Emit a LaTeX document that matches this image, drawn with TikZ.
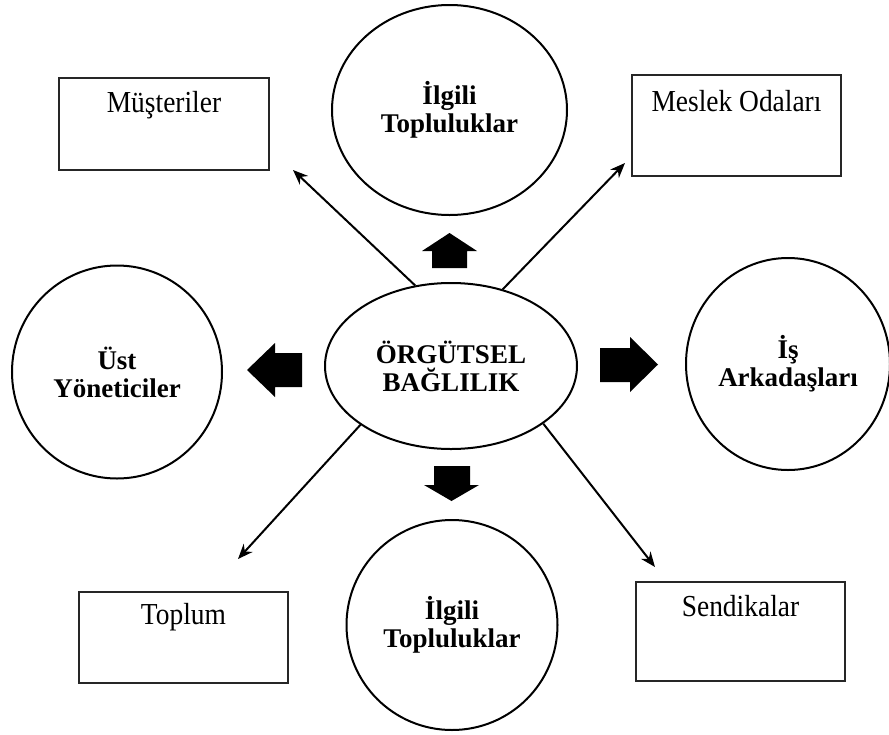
\documentclass[tikz,border=0pt]{standalone}
\usepackage{fontspec}
\setmainfont{Liberation Serif}
\newfontfamily\narrowserif[FakeStretch=0.9]{Liberation Serif}
\usetikzlibrary{shapes.geometric,arrows.meta}
\begin{document}
\begin{tikzpicture}[x=1pt,y=-1pt,
  oval/.style={draw, ellipse, line width=2pt, inner sep=0pt, align=center,
    font=\fontsize{27}{28}\selectfont\bfseries},
  boxst/.style={draw=black!85, rectangle, line width=1.8pt, inner sep=0pt},
  boxtext/.style={font=\narrowserif\fontsize{30.5}{32}\selectfont, anchor=base, inner sep=0pt},
  link/.style={line width=2pt, -{Stealth[length=15pt,width=12pt]}},
  blk/.style={fill=black}]
\fill[white] (0,0) rectangle (889,734);
\useasboundingbox (0,0) rectangle (889,734);

% ovals
\node[oval, minimum width=252pt, minimum height=166pt] (c) at (451,366) {ÖRGÜTSEL\\BAĞLILIK};
\node[oval, minimum width=235pt, minimum height=210pt] (t) at (449.5,110) {İlgili\\Topluluklar};
\node[oval, minimum width=210pt, minimum height=213pt] (l) at (117,372) {Üst\\Yöneticiler};
\node[oval, minimum width=204pt, minimum height=212pt] (r) at (788,364) {İş\\Arkadaşları};
\node[oval, minimum width=211pt, minimum height=210pt] (b) at (452,625) {İlgili\\Topluluklar};

% boxes
\node[boxst, minimum width=210pt, minimum height=92pt] (m) at (164,124) {};
\node[boxtext] (mt) at ([yshift=-35pt]m.north) {Müşteriler};
\node[boxst, minimum width=209pt, minimum height=101pt] (o) at (736.5,125.5) {};
\node[boxtext] (ot) at ([yshift=-37pt]o.north) {Meslek Odaları};
\node[boxst, minimum width=209pt, minimum height=91pt] (tp) at (183.5,637.5) {};
\node[boxtext] (tpt) at ([yshift=-33pt]tp.north) {Toplum};
\node[boxst, minimum width=209pt, minimum height=99pt] (s) at (740.5,631.5) {};
\node[boxtext] (st) at ([yshift=-35pt]s.north) {Sendikalar};

% thin arrows
\coordinate (tA) at (293,170);
\coordinate (tB) at (625,163);
\coordinate (tC) at (238,559);
\coordinate (tD) at (655,567);
\draw[link] (c.114) -- (tA);
\draw[link] (c.56) -- (tB);
\draw[link] (c.213) -- (tC);
\draw[link] (c.-32) -- (tD);

% block arrows
\fill[blk] (432,268) -- (432,251) -- (422,251) -- (449.5,233) -- (477,251) -- (467,251) -- (467,268) -- cycle;
\fill[blk] (302,353) -- (275,353) -- (275,343) -- (247,370) -- (275,397) -- (275,387) -- (302,387) -- cycle;
\fill[blk] (600,348) -- (630,348) -- (630,337) -- (658,364.5) -- (630,392) -- (630,382) -- (600,382) -- cycle;
\fill[blk] (434,466) -- (470,466) -- (470,485) -- (479,485) -- (451.5,501) -- (424,485) -- (434,485) -- cycle;
\end{tikzpicture}
\end{document}
